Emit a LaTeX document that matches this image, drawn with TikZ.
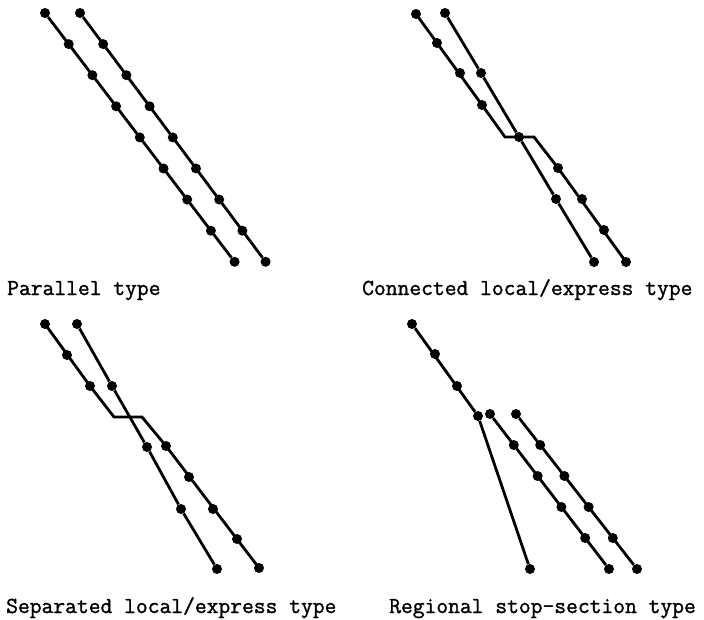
\documentclass[tikz,border=0pt]{standalone}
\usepackage{fontspec}
\newfontfamily\typefont[FakeBold=1.3]{Latin Modern Mono}
\tikzset{
  stn/.style={circle,fill=black,inner sep=0pt,minimum size=10pt},
  route/.style={line width=2.8pt},
  typelabel/.style={anchor=base west,inner sep=0pt,font=\fontsize{22.9}{26}\selectfont\typefont}
}
\begin{document}
\begin{tikzpicture}[x=1pt,y=-1pt]
\useasboundingbox (0,0) rectangle (704,620);

% parallel type
\foreach \i in {0,...,8} {
  \node[stn] (a\i) at ({45+23.7*\i},{13+31.1*\i}) {};
  \node[stn] (b\i) at ({80+23.2*\i},{13+31.1*\i}) {};
}
\draw[route] (a0)--(a8);
\draw[route] (b0)--(b8);
\node[typelabel] (lab1) at (7,295) {Parallel type};

% connected local/express type
\node[stn] (c0) at (416,14) {};
\node[stn] (c1) at (437,43) {};
\node[stn] (c2) at (460,73) {};
\node[stn] (c3) at (482,105) {};
\coordinate (c4) at (505,137);
\node[stn] (m) at (519,137) {};
\coordinate (c5) at (534,137);
\node[stn] (c6) at (558,168) {};
\node[stn] (c7) at (582,199) {};
\node[stn] (c8) at (604,230) {};
\node[stn] (c9) at (626,262) {};
\node[stn] (e0) at (445,13) {};
\node[stn] (e1) at (481,73) {};
\node[stn] (e2) at (556,199) {};
\node[stn] (e3) at (594,262) {};
\draw[route] (c0.center)--(c3.center)--(c4)--(c5)--(c6.center)--(c9.center);
\draw[route] (e0)--(e1)--(m)--(e2)--(e3);
\node[typelabel] (lab2) at (362,295) {Connected local/express type};

% separated local/express type
\node[stn] (d0) at (45,324) {};
\node[stn] (d1) at (67,355) {};
\node[stn] (d2) at (90,386) {};
\coordinate (d3) at (114,417);
\coordinate (d4) at (142,417);
\node[stn] (d5) at (166,446) {};
\node[stn] (d6) at (189,477) {};
\node[stn] (d7) at (213,509) {};
\node[stn] (d8) at (237,539) {};
\node[stn] (d9) at (259,568) {};
\node[stn] (f0) at (77,324) {};
\node[stn] (f1) at (112,386) {};
\node[stn] (f2) at (147,447) {};
\node[stn] (f3) at (181,509) {};
\node[stn] (f4) at (217,569) {};
\draw[route] (d0.center)--(d2.center)--(d3)--(d4)--(d5.center)--(d9.center);
\draw[route] (f0)--(f1)--(f2)--(f3)--(f4);
\node[typelabel] (lab3) at (6,613) {Separated local/express type};

% regional stop-section type
\node[stn] (g0) at (412,324) {};
\node[stn] (g1) at (435,354) {};
\node[stn] (g2) at (457,386) {};
\node[stn] (g3) at (478,416) {};
\node[stn] (g4) at (530,569) {};
\draw[route] (g0)--(g3);
\draw[route] (g3)--(g4);
\foreach \i in {0,...,5} {
  \node[stn] (h\i) at ({490+23.8*\i},{414+31*\i}) {};
  \node[stn] (k\i) at ({516+24.2*\i},{414+31*\i}) {};
}
\draw[route] (h0)--(h5);
\draw[route] (k0)--(k5);
\node[typelabel] (lab4) at (389,613) {Regional stop-section type};
\end{tikzpicture}
\end{document}
